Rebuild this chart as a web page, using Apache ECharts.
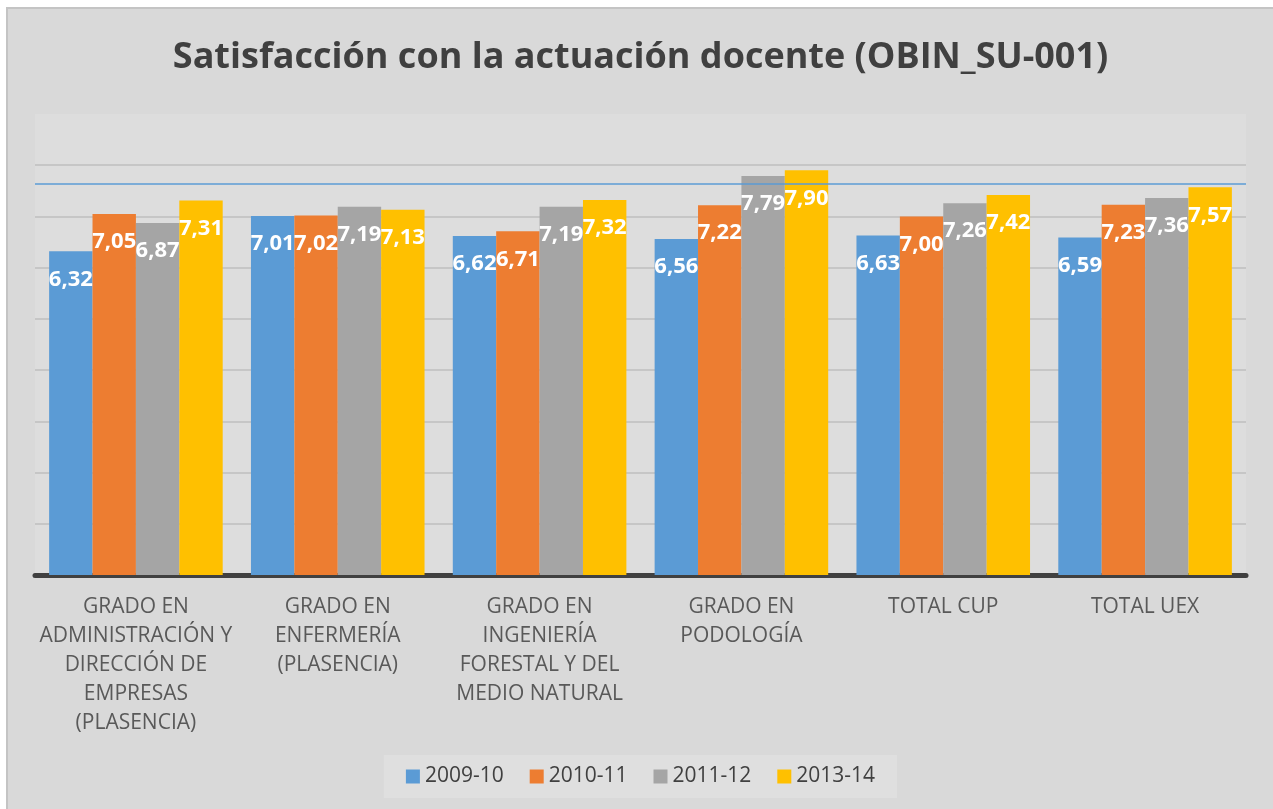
<!DOCTYPE html>
<html>
<head>
<meta charset="utf-8">
<script src="https://cdn.jsdelivr.net/npm/echarts@6/dist/echarts.min.js"></script>
<style>
  html, body { margin: 0; padding: 0; background: #ffffff; width: 1273px; height: 809px; overflow: hidden; }
  #frame { position: absolute; left: 6px; top: 7px; width: 1267px; height: 802px;
           border-left: 2px solid #c4c4c4; border-top: 2px solid #c4c4c4; background: #d9d9d9; }
  #chart { width: 1265px; height: 800px; }
</style>
</head>
<body>
<div id="frame"><div id="chart"></div></div>
<script>
// Programmes (axis categories)
const categories = [
  'GRADO EN\nADMINISTRACIÓN Y\nDIRECCIÓN DE\nEMPRESAS\n(PLASENCIA)',
  'GRADO EN\nENFERMERÍA\n(PLASENCIA)',
  'GRADO EN\nINGENIERÍA\nFORESTAL Y DEL\nMEDIO NATURAL',
  'GRADO EN\nPODOLOGÍA',
  'TOTAL CUP',
  'TOTAL UEX'
];

// Academic years
const years = ['2009-10', '2010-11', '2011-12', '2013-14'];

// Satisfaction scores per academic year
const v2009 = [6.32, 7.01, 6.62, 6.56, 6.63, 6.59];
const v2010 = [7.05, 7.02, 6.71, 7.22, 7.00, 7.23];
const v2011 = [6.87, 7.19, 7.19, 7.79, 7.26, 7.36];
const v2013 = [7.31, 7.13, 7.32, 7.90, 7.42, 7.57];

// Reference level drawn across the plot
const referenceLevel = 7.64;

const colors = ['#5b9bd5', '#ed7d31', '#a5a5a5', '#ffc000'];
const seriesValues = [v2009, v2010, v2011, v2013];

const fmt = v => v.toFixed(2).replace('.', ',');

const series = years.map((name, i) => {
  const s = {
    name: name,
    type: 'bar',
    data: seriesValues[i],
    barGap: '0%',
    barCategoryGap: '14%',
    itemStyle: { color: colors[i] },
    label: {
      show: true,
      position: 'insideTop',
      distance: 15,
      color: '#ffffff',
      fontFamily: 'Open Sans',
      fontWeight: 'bold',
      fontSize: 22,
      lineHeight: 26,
      formatter: p => fmt(p.value)
    },
    emphasis: { disabled: true }
  };
  if (i === 0) {
    s.markLine = {
      silent: true,
      symbol: 'none',
      label: { show: false },
      lineStyle: { color: '#5b9bd5', width: 1.5, type: 'solid' },
      data: [{ yAxis: referenceLevel }]
    };
  }
  return s;
});

// Grid lines from 0 up to 8; the line at the maximum stays hidden
const splitColors = ['#c6c6c6','#c6c6c6','#c6c6c6','#c6c6c6','#c6c6c6','#c6c6c6','#c6c6c6','#c6c6c6','#c6c6c6','rgba(0,0,0,0)'];

const chart = echarts.init(document.getElementById('chart'), null, { renderer: 'canvas' });
chart.setOption({
  backgroundColor: '#d9d9d9',
  animation: false,
  color: colors,
  title: {
    text: 'Satisfacción con la actuación docente (OBIN_SU-001)',
    left: 'center',
    top: 26,
    textStyle: { fontFamily: 'Open Sans', fontWeight: 'bold', fontSize: 36, color: '#404040' }
  },
  legend: {
    data: years,
    left: 'center',
    top: 746,
    backgroundColor: '#dfdfdf',
    padding: [11, 22],
    itemWidth: 14,
    itemHeight: 14,
    itemGap: 26,
    icon: 'rect',
    textStyle: { fontFamily: 'Open Sans', fontSize: 21, color: '#404040', padding: [0, 0, 0, 0] }
  },
  grid: {
    left: 27, right: 27, top: 105, bottom: 234,
    show: true, backgroundColor: '#dddddd', borderWidth: 0
  },
  xAxis: {
    type: 'category',
    data: categories,
    axisLine: { show: true, lineStyle: { color: '#404040', width: 5 } },
    axisTick: { show: false },
    axisLabel: {
      interval: 0,
      margin: 18,
      fontFamily: 'Open Sans',
      fontSize: 21,
      lineHeight: 29,
      color: '#595959',
      align: 'center',
      verticalAlign: 'top'
    }
  },
  yAxis: {
    type: 'value',
    min: 0, max: 9, interval: 1,
    axisLine: { show: false },
    axisTick: { show: false },
    axisLabel: { show: false },
    splitLine: { show: true, lineStyle: { color: splitColors, width: 2 } }
  },
  series: series
});
</script>
</body>
</html>
